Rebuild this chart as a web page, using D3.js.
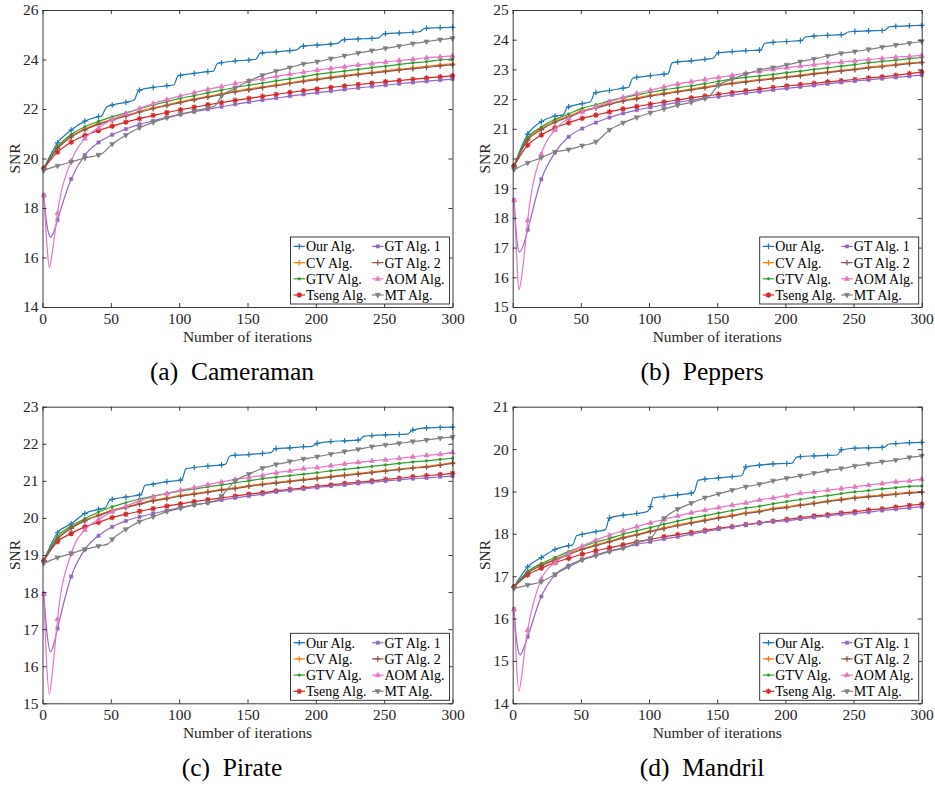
<!DOCTYPE html>
<html><head><meta charset="utf-8">
<script src="https://cdn.jsdelivr.net/npm/d3@7"></script>
<style>
body{margin:0;background:#fff;}
svg{display:block;font-family:"Liberation Serif","Times New Roman",serif;}
</style></head><body>
<svg id="chart" width="935" height="787"></svg>
<script>
// ---------- data ----------
const iterations = [1,11,21,31,41,51,61,71,81,91,101,111,121,131,141,151,161,171,181,191,201,211,221,231,241,251,261,271,281,291,300];
const xTicks = [0,50,100,150,200,250,300];
const seriesNames = ["Our Alg.","CV Alg.","GTV Alg.","Tseng Alg.","GT Alg. 1","GT Alg. 2","AOM Alg.","MT Alg."];

// (a) Cameraman
const camYTicks = [14,16,18,20,22,24,26];
const camOur   = [19.60,20.63,21.15,21.51,21.69,22.16,22.27,22.76,22.87,22.94,23.36,23.44,23.51,23.87,23.94,23.98,24.27,24.31,24.36,24.54,24.58,24.62,24.80,24.83,24.85,25.04,25.07,25.10,25.26,25.29,25.30];
const camCV    = [19.60,20.44,20.91,21.20,21.42,21.58,21.75,21.90,22.05,22.17,22.30,22.41,22.51,22.62,22.72,22.81,22.89,22.98,23.06,23.15,23.23,23.29,23.36,23.42,23.48,23.55,23.61,23.66,23.72,23.78,23.82];
const camGTV   = [19.60,20.48,20.97,21.28,21.50,21.68,21.85,22.01,22.16,22.30,22.43,22.54,22.65,22.76,22.87,22.96,23.05,23.14,23.22,23.31,23.40,23.47,23.53,23.60,23.67,23.73,23.80,23.86,23.91,23.98,24.02];
const camTseng = [19.60,20.26,20.66,20.93,21.13,21.31,21.47,21.61,21.74,21.86,21.97,22.07,22.17,22.26,22.35,22.43,22.51,22.59,22.67,22.74,22.81,22.87,22.93,22.99,23.04,23.10,23.15,23.20,23.25,23.30,23.34];
const camGT1   = [18.52,17.52,19.17,20.14,20.65,20.96,21.19,21.38,21.52,21.66,21.78,21.89,21.99,22.09,22.19,22.28,22.36,22.44,22.52,22.59,22.66,22.72,22.79,22.85,22.91,22.96,23.02,23.07,23.12,23.17,23.21];
const camGT2   = [19.60,20.40,20.87,21.16,21.38,21.55,21.71,21.87,22.01,22.14,22.26,22.37,22.48,22.58,22.69,22.77,22.86,22.94,23.03,23.11,23.19,23.26,23.32,23.39,23.45,23.51,23.57,23.63,23.68,23.74,23.78];
const camAOM   = [18.52,17.79,19.90,20.81,21.24,21.58,21.81,22.02,22.22,22.38,22.53,22.66,22.79,22.91,23.03,23.13,23.22,23.32,23.41,23.49,23.57,23.64,23.71,23.78,23.84,23.90,23.96,24.01,24.07,24.11,24.15];
const camMT    = [19.52,19.70,19.86,20.02,20.14,20.58,20.94,21.24,21.46,21.64,21.79,21.92,22.05,22.52,22.83,23.13,23.36,23.53,23.67,23.82,23.91,24.03,24.15,24.26,24.36,24.45,24.54,24.64,24.72,24.80,24.85];
const camOurSteps = [[43,21.72],[47,22.08],[67,22.36],[70,22.72],[96,22.97],[99,23.32],[125,23.53],[128,23.84],[156,24.01],[159,24.24],[186,24.39],[189,24.52],[216,24.65],[219,24.78],[246,24.87],[249,25.02],[276,25.12],[279,25.24]];
const camGT1Dip = [[3,17.40],[6,16.82],[9,17.15]];
const camAOMDip = [[3,16.70],[5,15.59],[7,16.15],[9,16.95]];
const camMTKnots = [[43,20.18],[126,22.12]];

// (b) Peppers
const pepYTicks = [15,16,17,18,19,20,21,22,23,24,25];
const pepOur   = [19.75,20.82,21.24,21.43,21.74,21.85,22.22,22.29,22.37,22.73,22.79,22.84,23.25,23.29,23.34,23.56,23.60,23.63,23.65,23.91,23.94,23.97,24.12,24.15,24.17,24.28,24.30,24.31,24.45,24.47,24.48];
const pepCV    = [19.75,20.66,21.01,21.26,21.43,21.61,21.73,21.85,21.96,22.04,22.13,22.20,22.27,22.34,22.41,22.48,22.55,22.60,22.66,22.71,22.76,22.81,22.87,22.92,22.97,23.02,23.08,23.12,23.17,23.22,23.25];
const pepGTV   = [19.75,20.70,21.06,21.32,21.50,21.69,21.81,21.94,22.05,22.14,22.23,22.31,22.38,22.45,22.52,22.60,22.67,22.73,22.78,22.83,22.89,22.94,23.00,23.05,23.11,23.16,23.22,23.27,23.31,23.36,23.40];
const pepTseng = [19.75,20.45,20.79,21.03,21.20,21.35,21.46,21.57,21.67,21.75,21.83,21.90,21.97,22.04,22.10,22.16,22.22,22.28,22.33,22.39,22.44,22.49,22.53,22.58,22.62,22.66,22.71,22.75,22.80,22.86,22.91];
const pepGT1   = [18.60,17.60,19.30,20.20,20.73,21.01,21.21,21.38,21.52,21.63,21.72,21.81,21.89,21.96,22.03,22.08,22.14,22.20,22.25,22.31,22.36,22.41,22.46,22.51,22.56,22.61,22.65,22.69,22.73,22.77,22.81];
const pepGT2   = [19.75,20.62,20.97,21.22,21.40,21.58,21.70,21.82,21.93,22.01,22.10,22.17,22.24,22.31,22.38,22.45,22.52,22.57,22.63,22.68,22.73,22.78,22.84,22.89,22.94,22.99,23.05,23.09,23.14,23.19,23.23];
const pepAOM   = [18.60,17.92,20.15,20.96,21.35,21.57,21.74,21.91,22.06,22.19,22.30,22.41,22.51,22.59,22.66,22.73,22.80,22.87,22.93,23.00,23.06,23.11,23.16,23.21,23.25,23.29,23.33,23.37,23.41,23.44,23.47];
const pepMT    = [19.63,19.85,20.03,20.22,20.30,20.43,20.56,20.96,21.20,21.38,21.54,21.67,21.79,21.89,22.02,22.47,22.67,22.84,22.98,23.06,23.15,23.26,23.35,23.45,23.54,23.60,23.67,23.75,23.82,23.88,23.94];
const pepOurSteps = [[37,21.47],[40,21.72],[57,21.91],[60,22.20],[85,22.40],[88,22.70],[114,22.86],[117,23.22],[147,23.37],[150,23.54],[182,23.66],[185,23.88],[212,23.98],[215,24.10],[243,24.18],[246,24.26],[273,24.32],[276,24.43]];
const pepGT1Dip = [[3,17.30],[5,16.85],[8,17.10]];
const pepAOMDip = [[3,16.60],[4.5,15.58],[6.5,16.00],[9,17.00]];
const pepMTKnots = [[143,22.05]];

// (c) Pirate
const pirYTicks = [15,16,17,18,19,20,21,22,23];
const pirOur   = [18.85,19.60,19.84,20.12,20.23,20.50,20.56,20.62,20.91,20.98,21.02,21.36,21.40,21.43,21.69,21.71,21.74,21.87,21.89,21.92,22.01,22.06,22.08,22.10,22.22,22.24,22.25,22.37,22.43,22.44,22.45];
const pirCV    = [18.85,19.45,19.74,19.94,20.08,20.21,20.30,20.39,20.48,20.54,20.61,20.66,20.71,20.77,20.81,20.87,20.92,20.96,21.00,21.04,21.08,21.12,21.16,21.20,21.24,21.28,21.32,21.36,21.39,21.44,21.49];
const pirGTV   = [18.85,19.50,19.78,19.98,20.16,20.30,20.41,20.51,20.59,20.66,20.73,20.78,20.84,20.89,20.95,21.00,21.06,21.10,21.14,21.18,21.22,21.27,21.31,21.35,21.39,21.43,21.47,21.51,21.54,21.58,21.61];
const pirTseng = [18.85,19.36,19.58,19.76,19.88,20.01,20.10,20.18,20.25,20.32,20.38,20.44,20.49,20.54,20.59,20.64,20.68,20.73,20.77,20.81,20.85,20.89,20.93,20.96,21.00,21.04,21.07,21.11,21.14,21.17,21.20];
const pirGT1   = [17.95,17.02,18.42,19.15,19.52,19.76,19.92,20.03,20.12,20.20,20.28,20.35,20.41,20.48,20.54,20.59,20.64,20.70,20.74,20.78,20.82,20.86,20.89,20.93,20.96,21.00,21.03,21.06,21.08,21.11,21.13];
const pirGT2   = [18.85,19.42,19.72,19.92,20.06,20.19,20.28,20.37,20.46,20.52,20.59,20.64,20.69,20.75,20.79,20.85,20.90,20.94,20.98,21.02,21.06,21.10,21.14,21.18,21.22,21.26,21.30,21.34,21.37,21.42,21.47];
const pirAOM   = [17.95,17.27,19.04,19.68,19.96,20.17,20.32,20.46,20.57,20.66,20.75,20.82,20.90,20.97,21.04,21.09,21.15,21.22,21.27,21.33,21.36,21.41,21.46,21.50,21.54,21.57,21.61,21.65,21.69,21.72,21.77];
const pirMT    = [18.78,18.93,19.04,19.15,19.24,19.42,19.69,19.90,20.03,20.17,20.26,20.35,20.41,20.59,21.00,21.18,21.34,21.44,21.52,21.59,21.65,21.72,21.79,21.85,21.92,21.97,22.01,22.06,22.10,22.15,22.18];
const pirOurSteps = [[46,20.27],[49,20.47],[72,20.63],[75,20.88],[102,21.03],[105,21.33],[134,21.45],[137,21.67],[167,21.76],[170,21.86],[197,21.93],[200,21.99],[232,22.11],[235,22.20],[267,22.26],[270,22.35]];
const pirGT1Dip = [[3,17.00],[6,16.39],[9,16.70]];
const pirAOMDip = [[3,16.10],[5,15.25],[7,15.75],[9,16.50]];
const pirMTKnots = [[48,19.30],[128,20.48]];

// (d) Mandril
const manYTicks = [14,15,16,17,18,19,20,21];
const manOur   = [16.75,17.22,17.44,17.63,17.72,17.99,18.05,18.37,18.44,18.48,18.64,18.88,18.92,18.96,19.29,19.32,19.35,19.58,19.62,19.65,19.66,19.82,19.84,19.85,19.98,20.02,20.03,20.04,20.13,20.15,20.16];
const manCV    = [16.75,17.09,17.27,17.40,17.53,17.65,17.74,17.83,17.92,17.99,18.07,18.14,18.21,18.27,18.33,18.39,18.44,18.50,18.54,18.60,18.64,18.69,18.73,18.78,18.82,18.86,18.89,18.92,18.95,18.98,18.99];
const manGTV   = [16.75,17.11,17.30,17.44,17.58,17.70,17.80,17.89,17.99,18.07,18.15,18.23,18.30,18.37,18.43,18.49,18.55,18.61,18.65,18.71,18.76,18.81,18.86,18.90,18.95,18.99,19.02,19.06,19.09,19.12,19.13];
const manTseng = [16.75,17.03,17.19,17.32,17.42,17.52,17.60,17.67,17.74,17.81,17.87,17.93,17.98,18.03,18.08,18.13,18.17,18.22,18.26,18.30,18.34,18.38,18.42,18.45,18.49,18.52,18.56,18.59,18.63,18.67,18.70];
const manGT1   = [16.22,15.57,16.52,17.03,17.25,17.40,17.50,17.59,17.67,17.75,17.81,17.88,17.93,17.99,18.05,18.11,18.16,18.21,18.25,18.29,18.31,18.35,18.39,18.42,18.46,18.48,18.51,18.55,18.58,18.61,18.64];
const manGT2   = [16.75,17.07,17.25,17.38,17.51,17.63,17.72,17.81,17.90,17.97,18.05,18.12,18.19,18.25,18.31,18.37,18.42,18.48,18.52,18.58,18.62,18.67,18.71,18.76,18.80,18.84,18.87,18.90,18.93,18.96,18.98];
const manAOM   = [16.22,15.73,16.93,17.32,17.54,17.71,17.85,17.97,18.07,18.17,18.26,18.34,18.42,18.50,18.56,18.62,18.68,18.73,18.80,18.85,18.90,18.96,18.99,19.03,19.07,19.11,19.15,19.19,19.23,19.25,19.29];
const manMT    = [16.71,16.79,16.87,17.04,17.22,17.38,17.48,17.58,17.66,17.79,17.89,18.36,18.58,18.72,18.85,18.94,19.03,19.11,19.17,19.25,19.31,19.37,19.43,19.49,19.54,19.60,19.65,19.70,19.74,19.80,19.84];
const manOurSteps = [[44,17.74],[47,17.96],[68,18.10],[99,18.53],[103,18.85],[133,18.98],[136,19.26],[168,19.37],[205,19.67],[208,19.80],[238,19.86],[273,20.05],[276,20.12]];
const manGT1Dip = [[3,15.45],[5.5,15.14],[8,15.30]];
const manAOMDip = [[2.5,15.10],[4.5,14.28],[7,14.75],[9,15.30]];
const manMTKnots = [];

// ---------- styles ----------
const seriesColors = ["#1f77b4","#ff7f0e","#2ca02c","#d62728","#9467bd","#8c564b","#e377c2","#7f7f7f"];
const seriesMarkers = ["plus","plus","dot","asterisk","square","plus","triUp","triDown"];
const FONT = '"Liberation Serif","Times New Roman",serif';
const INK = "#262626";

const panels = [
  {cap:"(a)  Cameraman", left:42.5, right:452.5, top:10, bottom:307, capX:232, yDomain:[14,26], yTicks:camYTicks,
   series:[camOur,camCV,camGTV,camTseng,camGT1,camGT2,camAOM,camMT], extra:{0:camOurSteps,4:camGT1Dip,6:camAOMDip,7:camMTKnots}},
  {cap:"(b)  Peppers", left:512.7, right:921.7, top:10, bottom:307, capX:702, yDomain:[15,25], yTicks:pepYTicks,
   series:[pepOur,pepCV,pepGTV,pepTseng,pepGT1,pepGT2,pepAOM,pepMT], extra:{0:pepOurSteps,4:pepGT1Dip,6:pepAOMDip,7:pepMTKnots}},
  {cap:"(c)  Pirate", left:42.5, right:452.5, top:406.7, bottom:703.3, capX:232, yDomain:[15,23], yTicks:pirYTicks,
   series:[pirOur,pirCV,pirGTV,pirTseng,pirGT1,pirGT2,pirAOM,pirMT], extra:{0:pirOurSteps,4:pirGT1Dip,6:pirAOMDip,7:pirMTKnots}},
  {cap:"(d)  Mandril", left:512.7, right:921.7, top:406.7, bottom:703.3, capX:702, yDomain:[14,21], yTicks:manYTicks,
   series:[manOur,manCV,manGTV,manTseng,manGT1,manGT2,manAOM,manMT], extra:{0:manOurSteps,4:manGT1Dip,6:manAOMDip,7:manMTKnots}}
];

function markerPath(t){
  switch(t){
    case "plus": return "M-2.8,0H2.8M0,-2.8V2.8";
    case "asterisk": return "M-2.8,0H2.8M0,-2.8V2.8M-2,-2L2,2M-2,2L2,-2";
    case "dot": return "M-1.3,0a1.3,1.3 0 1,0 2.6,0a1.3,1.3 0 1,0 -2.6,0";
    case "square": return "M-1.6,-1.6h3.2v3.2h-3.2Z";
    case "triUp": return "M0,-2.9L2.6,1.7H-2.6Z";
    case "triDown": return "M0,2.9L2.6,-1.7H-2.6Z";
  }
}
function drawMarker(sel, t, color, cx, cy){
  const filled = (t==="dot"||t==="square"||t==="triUp"||t==="triDown");
  sel.append("path").attr("d", markerPath(t))
    .attr("transform", `translate(${cx},${cy})`)
    .attr("fill", filled ? color : "none")
    .attr("stroke", color).attr("stroke-width", filled ? 0.6 : 1.2);
}

const svg = d3.select("#chart");
svg.append("rect").attr("width",935).attr("height",787).attr("fill","#fff");
const fmtInt = d3.format("d");

panels.forEach(p => {
  const g = svg.append("g");
  const x = d3.scaleLinear().domain([0,300]).range([p.left,p.right]);
  const y = d3.scaleLinear().domain(p.yDomain).range([p.bottom,p.top]);
  const line = d3.line().x(d=>x(d.x)).y(d=>y(d.y)).curve(d3.curveMonotoneX);

  p.series.forEach((vals, si) => {
    const pts = iterations.map((it,i)=>({x:it, y:vals[i], m:true}))
      .concat((p.extra[si]||[]).map(([a,b])=>({x:a, y:b, m:false})))
      .sort((a,b)=>a.x-b.x);
    g.append("path").datum(pts).attr("d", line)
      .attr("fill","none").attr("stroke", seriesColors[si]).attr("stroke-width",1.2);
    const mg = g.append("g");
    pts.filter(d=>d.m).forEach(d => drawMarker(mg, seriesMarkers[si], seriesColors[si], x(d.x), y(d.y)));
  });

  const styleAxis = a => {
    a.attr("font-family", FONT).attr("font-size", 15.5);
    a.selectAll(".domain").attr("stroke", INK).attr("stroke-width", 0.9);
    a.selectAll(".tick line").attr("stroke", INK).attr("stroke-width", 0.9);
    a.selectAll(".tick text").attr("fill", INK);
  };
  g.append("g").attr("transform",`translate(0,${p.bottom})`)
    .call(d3.axisBottom(x).tickValues(xTicks).tickFormat(fmtInt).tickSizeInner(-4).tickSizeOuter(0).tickPadding(6)).call(styleAxis);
  g.append("g").attr("transform",`translate(0,${p.top})`)
    .call(d3.axisTop(x).tickValues(xTicks).tickSizeInner(-4).tickSizeOuter(0).tickFormat("")).call(styleAxis);
  g.append("g").attr("transform",`translate(${p.left},0)`)
    .call(d3.axisLeft(y).tickValues(p.yTicks).tickFormat(fmtInt).tickSizeInner(-4).tickSizeOuter(0).tickPadding(4)).call(styleAxis);
  g.append("g").attr("transform",`translate(${p.right},0)`)
    .call(d3.axisRight(y).tickValues(p.yTicks).tickSizeInner(-4).tickSizeOuter(0).tickFormat("")).call(styleAxis);

  // axis titles
  g.append("text").attr("x",(p.left+p.right)/2).attr("y",p.bottom+35)
    .attr("text-anchor","middle").attr("font-family",FONT).attr("font-size",15.5).attr("fill",INK)
    .text("Number of iterations");
  g.append("text").attr("transform",`translate(${p.left-28},${(p.top+p.bottom)/2}) rotate(-90)`)
    .attr("dy","0.35em").attr("text-anchor","middle").attr("font-family",FONT).attr("font-size",15.5).attr("fill",INK)
    .text("SNR");

  // caption
  g.append("text").attr("x",p.capX).attr("y",p.bottom+73)
    .attr("text-anchor","middle").attr("font-family",FONT).attr("font-size",25.5).attr("fill","#000")
    .style("white-space","pre").text(p.cap);

  // legend
  const lw = 159, lh = 67;
  const lx = p.right - 3 - lw, ly = p.bottom - 3 - lh;
  const lg = g.append("g");
  lg.append("rect").attr("x",lx).attr("y",ly).attr("width",lw).attr("height",lh)
    .attr("fill","#fff").attr("stroke",INK).attr("stroke-width",0.9);
  seriesNames.forEach((name, si) => {
    const col = Math.floor(si/4), row = si%4;
    const cx = lx + (col===0 ? 3 : 81.5);
    const cy = ly + 9.4 + row*16.2;
    lg.append("line").attr("x1",cx).attr("x2",cx+11.5).attr("y1",cy).attr("y2",cy)
      .attr("stroke",seriesColors[si]).attr("stroke-width",1.2);
    drawMarker(lg, seriesMarkers[si], seriesColors[si], cx+5.75, cy);
    lg.append("text").attr("x",cx+12.5).attr("y",cy).attr("dy","0.35em")
      .attr("font-family",FONT).attr("font-size",14).attr("fill","#000").text(name);
  });
});
</script>
</body></html>
